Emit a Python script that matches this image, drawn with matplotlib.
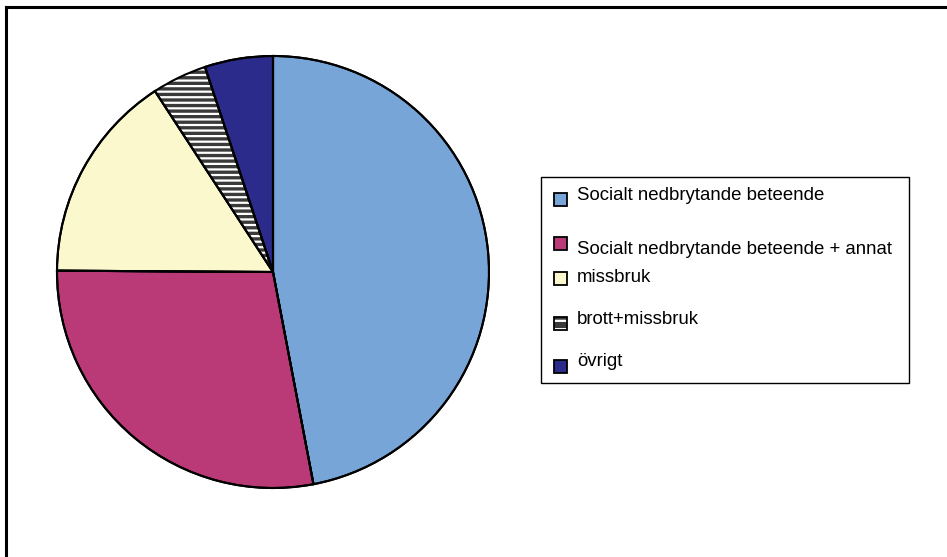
import matplotlib
matplotlib.use("Agg")
import matplotlib.pyplot as plt
from matplotlib.patches import Rectangle
from matplotlib.lines import Line2D

labels = ["Socialt nedbrytande beteende",
          "Socialt nedbrytande beteende + annat",
          "missbruk",
          "brott+missbruk",
          "övrigt"]
values = [47.0, 28.1, 15.7, 4.1, 5.1]
colors = ["#78A5D8", "#BA3A77", "#FAF8CC", "#3A3A3A", "#2B2B8C"]
hatches = [None, None, None, "---", None]

plt.rcParams["font.family"] = ["Liberation Sans", "DejaVu Sans"]
plt.rcParams["hatch.linewidth"] = 1.6

W, H = 947, 557
fig = plt.figure(figsize=(W / 100, H / 100), dpi=100)

# outer frame (top and left edges visible)
fig.add_artist(Line2D([6 / W, 1], [1 - 7 / H, 1 - 7 / H], color="black", lw=2.2))
fig.add_artist(Line2D([6 / W, 6 / W], [0, 1 - 7 / H], color="black", lw=2.2))

# pie
cx, cy, r = 273, 272, 216
ax = fig.add_axes([(cx - r) / W, 1 - (cy + r) / H, 2 * r / W, 2 * r / H])
wedges, _ = ax.pie(values, colors=colors, startangle=90, counterclock=False,
                   wedgeprops=dict(edgecolor="black", linewidth=1.5))
for w, h in zip(wedges, hatches):
    if h:
        w.set_hatch(h)
        w.set_edgecolor("white")
        w.set_linewidth(0)
# black outlines on top of all wedges
ax.pie(values, startangle=90, counterclock=False,
       colors=["none"] * len(values),
       wedgeprops=dict(edgecolor="black", linewidth=1.5))
ax.set_xlim(-1, 1)
ax.set_ylim(-1, 1)
ax.set_aspect("equal")
ax.axis("off")

# legend box
bx0, by0, bx1, by1 = 541, 177, 909, 383
fig.add_artist(Rectangle((bx0 / W, 1 - by1 / H), (bx1 - bx0) / W, (by1 - by0) / H,
                         transform=fig.transFigure, facecolor="white",
                         edgecolor="black", lw=1.0))
patch_y = [193, 237, 272, 317, 360]
text_y = [195, 250, 277, 319, 362]
for lab, col, h, py, ty in zip(labels, colors, hatches, patch_y, text_y):
    rect = Rectangle((554 / W, 1 - (py + 13) / H), 13 / W, 13 / H,
                     transform=fig.transFigure, facecolor=col,
                     edgecolor="white" if h else "black", lw=0 if h else 1.3,
                     hatch="--" if h else None)
    fig.add_artist(rect)
    if h:
        fig.add_artist(Rectangle((554 / W, 1 - (py + 13) / H), 13 / W, 13 / H,
                                 transform=fig.transFigure, facecolor="none",
                                 edgecolor="black", lw=1.3))
    fig.text(577 / W, 1 - ty / H, lab, fontsize=13.4, va="center", ha="left")

fig.savefig("out.png", dpi=100)
